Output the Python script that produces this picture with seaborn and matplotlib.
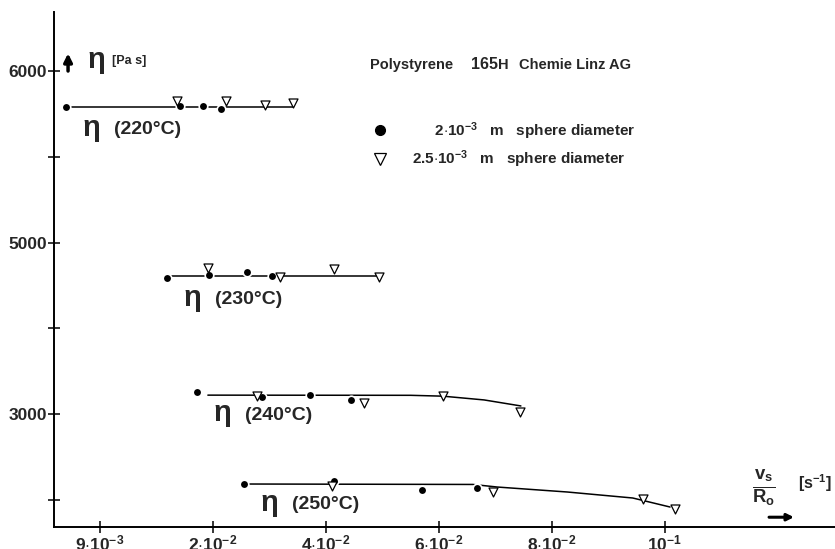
import numpy as np
import pandas as pd
import matplotlib
matplotlib.use('Agg')
import matplotlib.pyplot as plt
from matplotlib.lines import Line2D
import seaborn as sns

# shear rate v_s/R_o [1/s] and viscosity [Pa s]
temps = ['220', '230', '240', '250']

shear_dot_220 = [0.0057, 0.0168, 0.0190, 0.0214]
eta_dot_220 = [5790, 5796, 5796, 5778]
shear_tri_220 = [0.0165, 0.0223, 0.0292, 0.0342]
eta_tri_220 = [5826, 5826, 5803, 5814]

shear_dot_230 = [0.0155, 0.0196, 0.0260, 0.0304]
eta_dot_230 = [4587, 4622, 4657, 4610]
shear_tri_230 = [0.0195, 0.0319, 0.0414, 0.0494]
eta_tri_230 = [4704, 4599, 4692, 4599]

shear_dot_240 = [0.0184, 0.0287, 0.0372, 0.0444]
eta_dot_240 = [3259, 3200, 3224, 3166]
shear_tri_240 = [0.0278, 0.0467, 0.0607, 0.0743]
eta_tri_240 = [3212, 3131, 3212, 3026]

shear_dot_250 = [0.0255, 0.0414, 0.0570, 0.0667]
eta_dot_250 = [2186, 2221, 2117, 2140]
shear_tri_250 = [0.0411, 0.0696, 0.0961, 0.1018]
eta_tri_250 = [2163, 2093, 2012, 1895]

# hand drawn fit curves
fit_shear_220 = [0.0062, 0.0342]
fit_eta_220 = [5792, 5792]
fit_shear_230 = [0.0158, 0.0494]
fit_eta_230 = [4615, 4615]
fit_shear_240 = [0.0195, 0.055, 0.0607, 0.068, 0.0745]
fit_eta_240 = [3222, 3220, 3210, 3166, 3096]
fit_shear_250 = [0.026, 0.066, 0.0703, 0.0827, 0.0943, 0.1009]
fit_eta_250 = [2186, 2181, 2151, 2093, 2023, 1918]

x_ticks = [0.009, 0.02, 0.04, 0.06, 0.08, 0.1]
x_ticklabels = [r'$9{\cdot}10^{-3}$', r'$2{\cdot}10^{-2}$', r'$4{\cdot}10^{-2}$',
                r'$6{\cdot}10^{-2}$', r'$8{\cdot}10^{-2}$', r'$10^{-1}$']
y_ticks = [2000, 3000, 4000, 5000, 5500, 6000]
y_ticklabels = ['', '3000', '', '5000', '', '6000']

sns.set_style('white')
plt.rcParams['font.family'] = ['Liberation Sans', 'DejaVu Sans']
plt.rcParams['font.weight'] = 'bold'
plt.rcParams['mathtext.fontset'] = 'custom'
plt.rcParams['mathtext.rm'] = 'Liberation Sans:bold'
plt.rcParams['mathtext.it'] = 'Liberation Sans:bold'
plt.rcParams['mathtext.bf'] = 'Liberation Sans:bold'
plt.rcParams['mathtext.default'] = 'bf'

dots = pd.DataFrame({
    'shear': shear_dot_220 + shear_dot_230 + shear_dot_240 + shear_dot_250,
    'eta': eta_dot_220 + eta_dot_230 + eta_dot_240 + eta_dot_250})
tris = pd.DataFrame({
    'shear': shear_tri_220 + shear_tri_230 + shear_tri_240 + shear_tri_250,
    'eta': eta_tri_220 + eta_tri_230 + eta_tri_240 + eta_tri_250})
fits = {'220': (fit_shear_220, fit_eta_220), '230': (fit_shear_230, fit_eta_230),
        '240': (fit_shear_240, fit_eta_240), '250': (fit_shear_250, fit_eta_250)}

fig = plt.figure(figsize=(8.35, 5.49), dpi=100)
ax = fig.add_axes([54 / 835, 22 / 549, 781 / 835, 515 / 549])

for t in temps:
    sx, sy = fits[t]
    sns.lineplot(x=sx, y=sy, color='black', lw=1.1, estimator=None, sort=False, ax=ax, zorder=1)

sns.scatterplot(data=dots, x='shear', y='eta', marker='o', color='black', s=38,
                edgecolor='white', linewidth=1.2, ax=ax, zorder=3)
sns.scatterplot(data=tris, x='shear', y='eta', marker='v', facecolor='white', s=42,
                edgecolor='black', linewidth=0.9, ax=ax, zorder=3)

# the original axes are stretched piecewise
xv = [0.0, 0.009, 0.02, 0.2]
xp = [-9 / 11, 0, 1, 10]
yv = [0, 2000, 3000, 4000, 5000, 6000, 8000]
yp = [-2, 0, 1, 2, 3, 5, 9]
ax.set_xscale('function', functions=(lambda v: np.interp(v, xv, xp), lambda p: np.interp(p, xp, xv)))
ax.set_yscale('function', functions=(lambda v: np.interp(v, yv, yp), lambda p: np.interp(p, yp, yv)))
ax.set_xlim(0.00452, 0.1301)
ax.set_ylim(1685, 6344)

ax.set_xticks(x_ticks)
ax.set_xticklabels(x_ticklabels, fontsize=12.5)
ax.set_yticks(y_ticks)
ax.set_yticklabels(y_ticklabels, fontsize=12.5, fontweight='bold')
ax.minorticks_off()
ax.tick_params(axis='both', which='major', direction='inout', length=8, width=1.1,
               color='black', left=True, bottom=True)
ax.tick_params(axis='x', pad=1)
ax.tick_params(axis='y', pad=1)
ax.set_xlabel('')
ax.set_ylabel('')

sns.despine(ax=ax)
for s in ['left', 'bottom']:
    ax.spines[s].set_color('black')
    ax.spines[s].set_linewidth(1.4)

# curve labels
curve_labels = [(0.036, 0.771), (0.165, 0.441), (0.204, 0.217), (0.264, 0.043)]
for t, (lx, ly) in zip(temps, curve_labels):
    ax.text(lx, ly, r'$\eta$', transform=ax.transAxes, fontsize=21, va='center', ha='left')
    ax.text(lx + 0.041, ly, '(' + t + '°C)', transform=ax.transAxes, fontsize=14,
            fontweight='bold', va='center', ha='left')

# y axis label
ax.annotate('', xy=(0.018, 0.925), xytext=(0.018, 0.880), xycoords='axes fraction',
            arrowprops=dict(arrowstyle='-|>', color='black', lw=2.5, mutation_scale=12))
ax.text(0.042, 0.902, r'$\eta$', transform=ax.transAxes, fontsize=21, va='center', ha='left')
ax.text(0.074, 0.905, '[Pa s]', transform=ax.transAxes, fontsize=9, va='center', ha='left')

# title
ax.text(0.405, 0.897, 'Polystyrene', transform=ax.transAxes, fontsize=10.5, va='center', ha='left')
ax.text(0.534, 0.899, '165', transform=ax.transAxes, fontsize=11.5, va='center', ha='left')
ax.text(0.569, 0.897, 'H', transform=ax.transAxes, fontsize=10.5, va='center', ha='left')
ax.text(0.596, 0.897, 'Chemie Linz AG', transform=ax.transAxes, fontsize=10.5, va='center', ha='left')

# legend
handles = [Line2D([], [], ls='none', marker='o', color='black', markersize=7),
           Line2D([], [], ls='none', marker='v', markerfacecolor='white',
                  markeredgecolor='black', markersize=8, markeredgewidth=0.9)]
labels = [r'$\ \ \ \ \ 2{\cdot}10^{-3}$   m   sphere diameter',
          r'$2.5{\cdot}10^{-3}$   m   sphere diameter']
ax.legend(handles, labels, loc='upper left', bbox_to_anchor=(0.39, 0.817), frameon=False,
          handlelength=1, handletextpad=1.6, labelspacing=0.45,
          prop={'weight': 'bold', 'size': 11})

# x axis label
ax.text(0.909, 0.077, r'$\frac{v_s}{R_o}$', transform=ax.transAxes, fontsize=19,
        va='center', ha='center')
ax.text(0.974, 0.085, r'$[s^{-1}]$', transform=ax.transAxes, fontsize=11.5,
        va='center', ha='center')
ax.annotate('', xy=(0.951, 0.019), xytext=(0.912, 0.019), xycoords='axes fraction',
            arrowprops=dict(arrowstyle='-|>', color='black', lw=2.2, mutation_scale=10))

fig.savefig('out.png', dpi=100)
